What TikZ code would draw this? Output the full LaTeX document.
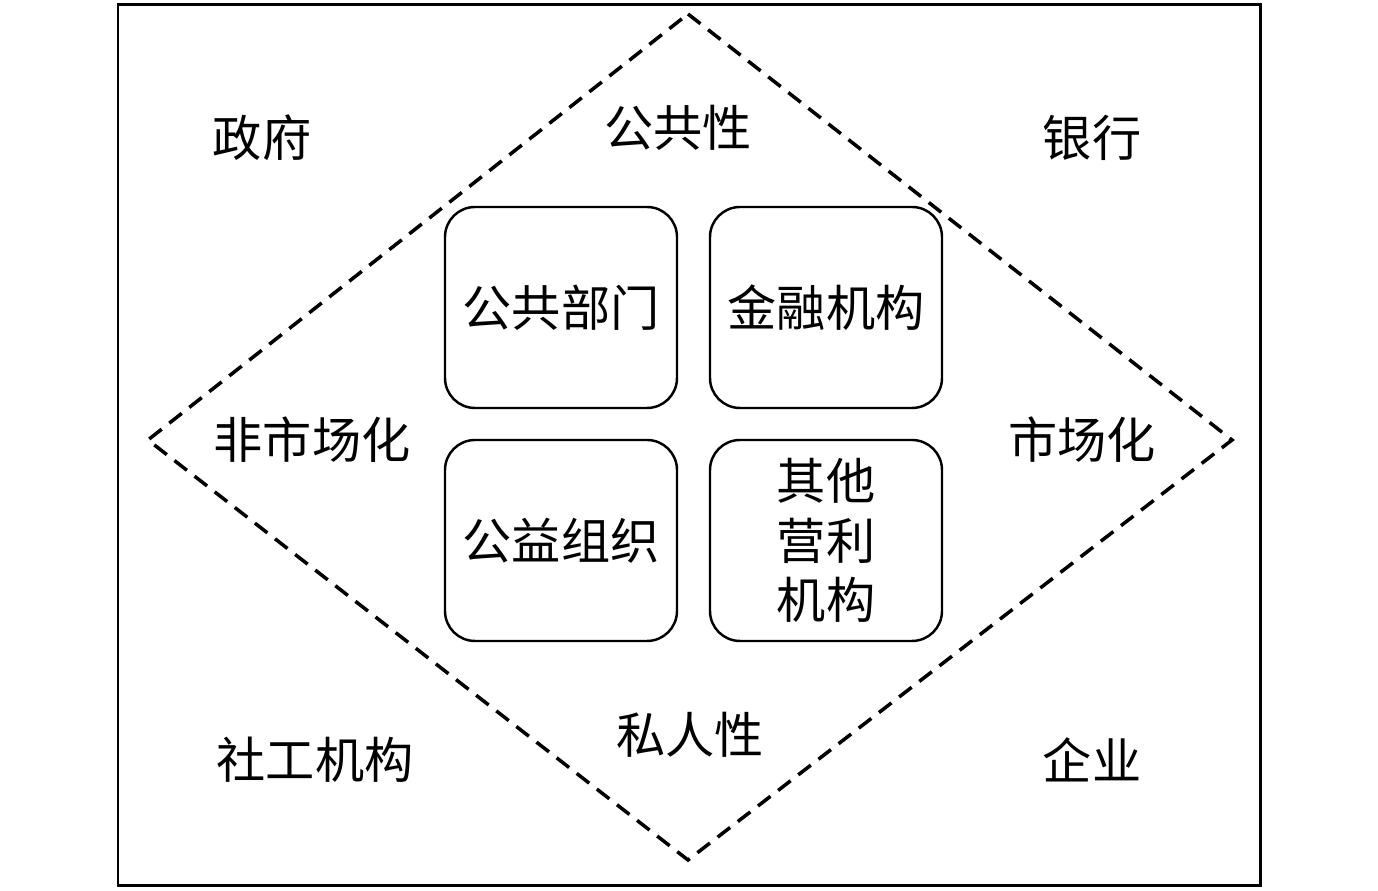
\documentclass[tikz,border=0pt]{standalone}
\usepackage{fontspec}
\setmainfont{Noto Sans CJK SC}
\usetikzlibrary{positioning}
\begin{document}
\begin{tikzpicture}[
	lbl/.style={inner sep=0pt, font=\fontsize{28}{34}\selectfont},
	orgbox/.style={shape=rectangle, draw, line width=1.4pt, rounded corners=0.6cm, minimum width=4.64cm, minimum height=4.02cm, align=center, font=\fontsize{28}{34}\selectfont},
	diag/.style={line width=2pt, dash pattern=on 9pt off 5.5pt}
]
	\useasboundingbox (0,0) rectangle (27.56,17.82);
	% Frame and diamond:
	\draw[line width=1.7pt] (2.36,0.10) rectangle (25.2,17.72);
	\coordinate (top) at (13.76,17.54);
	\coordinate (right) at (24.64,9.02);
	\coordinate (bottom) at (13.76,0.62);
	\coordinate (left) at (2.96,9.02);
	\draw[diag] (top) -- (right) -- (bottom) -- (left) -- cycle;
	% Boxes:
	\node[orgbox] (public) at (11.22,11.67){公共部门};
	\node[orgbox] (finance) at (16.52,11.67){金融机构};
	\node[orgbox] (welfare) at (11.22,7.01){公益组织};
	\node[orgbox] (profit) at (16.52,7.01){其他\\营利\\机构};
	% Labels:
	\node[lbl] (gov) at (5.24,15.06){政府};
	\node[lbl] (publicness) at (13.56,15.26){公共性};
	\node[lbl] (bank) at (21.84,15.06){银行};
	\node[lbl] (nonmarket) at (6.24,9.02){非市场化};
	\node[lbl] (market) at (21.64,9.02){市场化};
	\node[lbl] (social) at (6.30,2.62){社工机构};
	\node[lbl] (privateness) at (13.80,3.12){私人性};
	\node[lbl] (firm) at (21.84,2.62){企业};
\end{tikzpicture}
\end{document}
